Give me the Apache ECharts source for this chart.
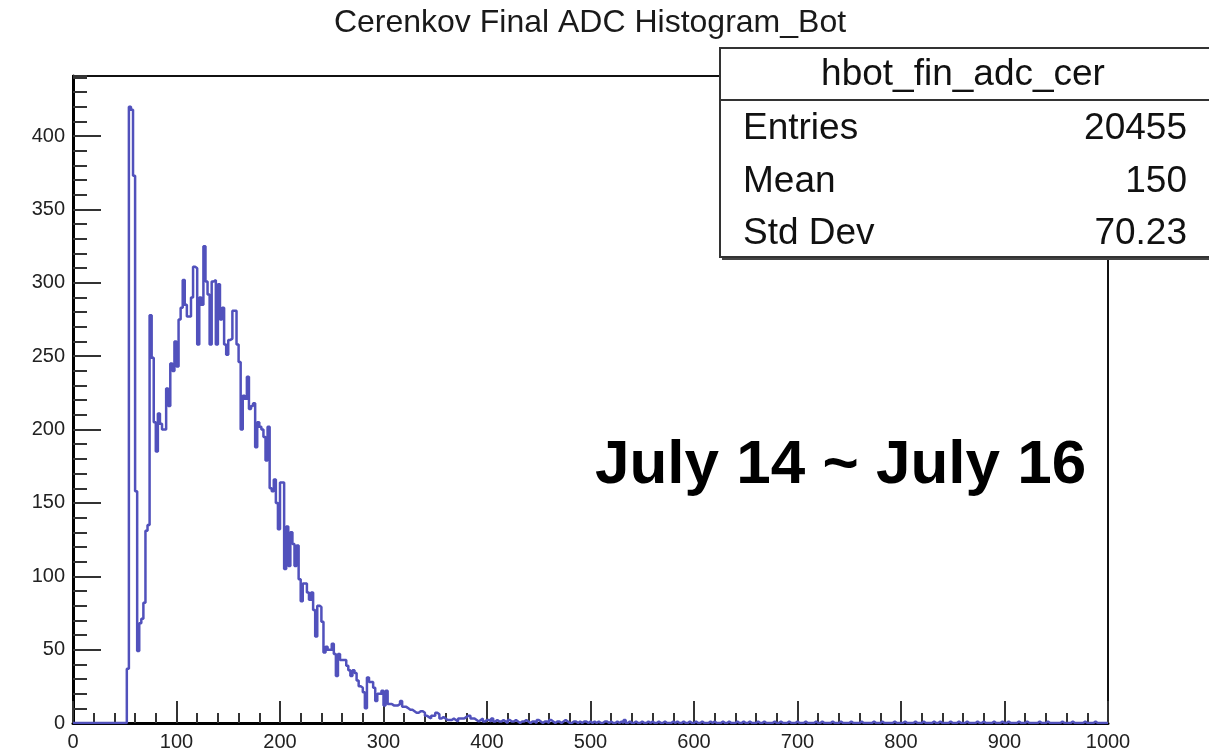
<!DOCTYPE html>
<html><head><meta charset="utf-8">
<script src="https://cdn.jsdelivr.net/npm/echarts@6/dist/echarts.min.js"></script>
<style>html,body{margin:0;padding:0;background:#fff}#c{width:1209px;height:755px}</style>
</head><body><div id="c"></div>
<script>
const chartTitle = 'Cerenkov Final ADC Histogram_Bot';
const histName = 'hbot_fin_adc_cer';
const statLabels = ['Entries', 'Mean', 'Std Dev'];
const statValues = ['20455', '150', '70.23'];
const annotation = 'July 14 ~ July 16';
const xTicks = [0, 100, 200, 300, 400, 500, 600, 700, 800, 900, 1000];
const yTicks = [0, 50, 100, 150, 200, 250, 300, 350, 400];
const binLow = 0, binWidth = 2;
// bins [0,2) ... [72,74)
const countsHead = [0,0,0,0,0,0,0,0,0,0, 0,0,0,0,0,0,0,0,0,0, 0,0,0,0,0,0,
  37,420,418,373,158,49,68,71,82,131,135];
// bins [74,76) ... [198,200)
const countsPeak = [278,249,205,185,211,204,200,200,228,216,
  245,240,260,243,275,283,302,285,277,277,
  290,311,310,258,290,285,325,301,292,258,
  301,302,258,299,275,283,258,251,261,262,
  281,281,258,246,200,223,221,236,214,216,
  218,188,205,202,200,195,179,202,160,158,
  166,150,132];
// bins [200,202) ... [398,400)
const countsFall = [164,164,105,134,107,130,122,107,121,98,
  83,95,95,89,84,89,77,59,80,79,
  69,48,52,50,50,54,47,32,47,43,
  43,43,39,36,32,36,34,29,25,24,
  21,10,31,28,28,24,15,20,20,22,
  12,22,13,13,12,12,12,13,15,11,
  11,10,9,9,8,7,7,8,8,7,
  5,4,3,5,5,7,6,3,4,3,
  2,2,2,3,2,1,3,3,3,4,
  5,5,3,3,2,1,2,3,1,2];
// bins [400,402) ... [998,1000)
const countsTail = [2,1,3,1,2,1,1,2,1,0,2,1,1,2,1,0,1,1,2,1,0,1,1,0,2,
  1,0,1,1,0,2,1,0,1,1,0,1,2,1,0,0,1,1,0,1,0,1,1,0,1,
  0,1,0,1,0,0,1,1,0,1,0,0,1,0,1,0,2,0,1,0,0,1,0,0,1,
  0,0,1,0,1,0,0,1,0,0,1,0,0,0,1,0,1,0,0,1,0,0,1,0,0,
  1,0,0,1,0,0,0,1,0,1,0,0,0,1,0,0,1,0,0,0,1,0,0,1,0,
  0,1,0,0,0,1,0,0,1,0,0,0,0,1,0,0,1,0,0,0,1,0,0,0,1,
  0,0,0,1,0,0,0,0,1,0,0,1,0,0,0,0,1,0,0,0,1,0,0,0,0,
  1,0,0,0,0,1,0,0,0,0,0,1,0,0,0,1,0,0,0,0,0,1,0,0,0,
  0,1,0,0,0,0,1,0,0,0,1,0,0,0,0,1,0,0,1,0,0,0,0,1,0,
  0,0,1,0,0,0,1,0,0,0,0,1,0,0,1,0,0,0,0,1,0,0,0,1,0,
  0,1,0,0,0,0,1,0,0,0,1,0,0,0,0,0,1,0,0,0,1,0,0,0,0,
  0,0,1,0,0,0,0,1,0,0,0,0,0,1,0,0,0,0,1,0,0,0,0,0,0];

const counts = countsHead.concat(countsPeak, countsFall, countsTail);
const points = counts.map((v, i) => [binLow + i * binWidth, v]);
points.push([binLow + counts.length * binWidth, counts[counts.length - 1]]);

const FONT = '"Liberation Sans", Arial, Helvetica, sans-serif';
const yMax = 441;
const chart = echarts.init(document.getElementById('c'), null, {renderer: 'canvas'});
const option = {
  animation: false,
  backgroundColor: '#fff',
  grid: {left: 73, right: 101, top: 76, bottom: 32, show: true, borderColor: '#111', borderWidth: 2, backgroundColor: '#fff'},
  xAxis: {
    type: 'value', min: xTicks[0], max: xTicks[xTicks.length - 1], interval: 100,
    axisLine: {show: true, lineStyle: {color: '#000', width: 3}},
    axisTick: {show: true, inside: true, length: 22, lineStyle: {color: '#333', width: 2}},
    minorTick: {show: true, splitNumber: 5, length: 10, lineStyle: {color: '#333', width: 2}},
    axisLabel: {color: '#222', fontSize: 20, fontFamily: FONT, margin: 9, formatter: v => String(v)},
    splitLine: {show: false}
  },
  yAxis: [{
    type: 'value', min: yTicks[0], max: yMax, interval: 50, position: 'left',
    axisLine: {show: true, lineStyle: {color: '#000', width: 3}},
    axisTick: {show: true, inside: true, length: 28, lineStyle: {color: '#333', width: 2}},
    axisLabel: {color: '#222', fontSize: 20, fontFamily: FONT, margin: 8, showMaxLabel: false, formatter: v => String(v)},
    splitLine: {show: false}
  }, {
    type: 'value', min: yTicks[0], max: yMax, interval: 10, position: 'left',
    axisLine: {show: false},
    axisTick: {show: true, inside: true, length: 14, lineStyle: {color: '#333', width: 2}},
    axisLabel: {show: false},
    splitLine: {show: false}
  }],
  series: [{
    type: 'line', step: 'end', data: points, xAxisIndex: 0, yAxisIndex: 0,
    showSymbol: false, symbol: 'none',
    lineStyle: {color: '#5151bc', width: 2.5},
    z: 3
  }],
  graphic: [
    {type: 'text', x: 590, y: 23, z: 100, style: {text: chartTitle, font: '32px ' + FONT, fill: '#1a1a1a', textAlign: 'center', textVerticalAlign: 'middle', verticalAlign: 'middle'}},
    {type: 'rect', z: 100, shape: {x: 722, y: 50, width: 520, height: 210}, style: {fill: '#444'}},
    {type: 'rect', z: 101, shape: {x: 720, y: 48, width: 520, height: 209}, style: {fill: '#fff', stroke: '#333', lineWidth: 2}},
    {type: 'line', z: 102, shape: {x1: 720, y1: 100, x2: 1209, y2: 100}, style: {stroke: '#333', lineWidth: 2}},
    {type: 'text', x: 963, y: 75, z: 103, style: {text: histName, font: '37px ' + FONT, fill: '#111', textAlign: 'center', textVerticalAlign: 'middle', verticalAlign: 'middle'}},
    {type: 'text', x: 743, y: 129, z: 103, style: {text: statLabels[0], font: '37px ' + FONT, fill: '#111', textAlign: 'left', textVerticalAlign: 'middle', verticalAlign: 'middle'}},
    {type: 'text', x: 1187, y: 129, z: 103, style: {text: statValues[0], font: '37px ' + FONT, fill: '#111', textAlign: 'right', textVerticalAlign: 'middle', verticalAlign: 'middle'}},
    {type: 'text', x: 743, y: 182, z: 103, style: {text: statLabels[1], font: '37px ' + FONT, fill: '#111', textAlign: 'left', textVerticalAlign: 'middle', verticalAlign: 'middle'}},
    {type: 'text', x: 1187, y: 182, z: 103, style: {text: statValues[1], font: '37px ' + FONT, fill: '#111', textAlign: 'right', textVerticalAlign: 'middle', verticalAlign: 'middle'}},
    {type: 'text', x: 743, y: 234, z: 103, style: {text: statLabels[2], font: '37px ' + FONT, fill: '#111', textAlign: 'left', textVerticalAlign: 'middle', verticalAlign: 'middle'}},
    {type: 'text', x: 1187, y: 234, z: 103, style: {text: statValues[2], font: '37px ' + FONT, fill: '#111', textAlign: 'right', textVerticalAlign: 'middle', verticalAlign: 'middle'}},
    {type: 'text', x: 595, y: 466, z: 100, style: {text: annotation, font: 'bold 62px ' + FONT, fill: '#000', textAlign: 'left', textVerticalAlign: 'middle', verticalAlign: 'middle'}}
  ]
};
chart.setOption(option);
</script>
</body></html>
